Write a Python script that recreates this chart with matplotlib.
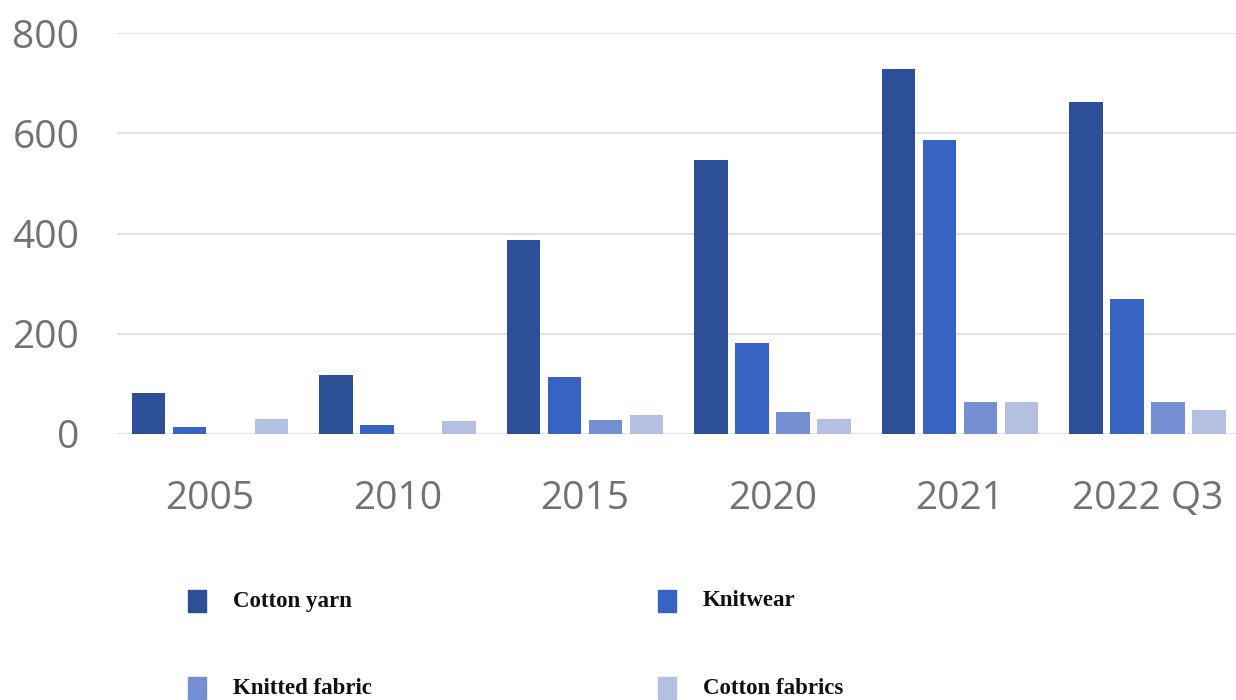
import numpy as np
import matplotlib
matplotlib.use("Agg")
import matplotlib.pyplot as plt
from matplotlib.patches import Rectangle

# export volumes by year
years = ["2005", "2010", "2015", "2020", "2021", "2022 Q3"]
series = ["Cotton yarn", "Knitwear", "Knitted fabric", "Cotton fabrics"]
cotton_yarn = [82, 118, 387, 547, 728, 663]
knitwear = [13, 18, 114, 182, 587, 270]
knitted_fabric = [0, 0, 28, 43, 63, 63]
cotton_fabrics = [30, 25, 38, 30, 64, 48]
colors = ["#2d4f98", "#3763c2", "#7590d2", "#b3c0e2"]

values = [cotton_yarn, knitwear, knitted_fabric, cotton_fabrics]

W, H = 1236, 700
fig = plt.figure(figsize=(W / 100, H / 100), dpi=100)
ax = fig.add_axes([117 / W, 1 - 434 / H, 1 - 117 / W, (434 - 33) / H])

x = np.arange(len(years))
step = 0.219
width = 0.18
for j, (vals, c) in enumerate(zip(values, colors)):
    ax.bar(x + (j - 1.5) * step, vals, width, color=c, zorder=2)

ax.set_xlim(-0.496, 5.472)
ax.set_ylim(0, 800)
ax.set_yticks([0, 200, 400, 600, 800])
ax.set_xticks(x)
ax.set_xticklabels(years)
ax.grid(axis="y", color="#e3e3e3", linewidth=1.5, zorder=0)
for s in ax.spines.values():
    s.set_visible(False)
ax.tick_params(length=0, labelsize=28, labelcolor="#727272")
ax.tick_params(axis="y", pad=27)
ax.tick_params(axis="x", pad=33)
for lab in ax.get_xticklabels() + ax.get_yticklabels():
    lab.set_family("Open Sans")

# legend drawn by hand in two columns
legend_pos = [(188, 601), (658, 601), (188, 688), (658, 688)]
for name, c, (px, py) in zip(series, colors, legend_pos):
    fig.add_artist(Rectangle((px / W, 1 - (py + 11) / H), 18 / W, 22 / H,
                             transform=fig.transFigure, color=c))
    fig.text((px + 45) / W, 1 - py / H, name, family="Liberation Serif",
             weight="bold", fontsize=16.5, va="center", ha="left", color="#111111")

fig.savefig("out.png", dpi=100)
